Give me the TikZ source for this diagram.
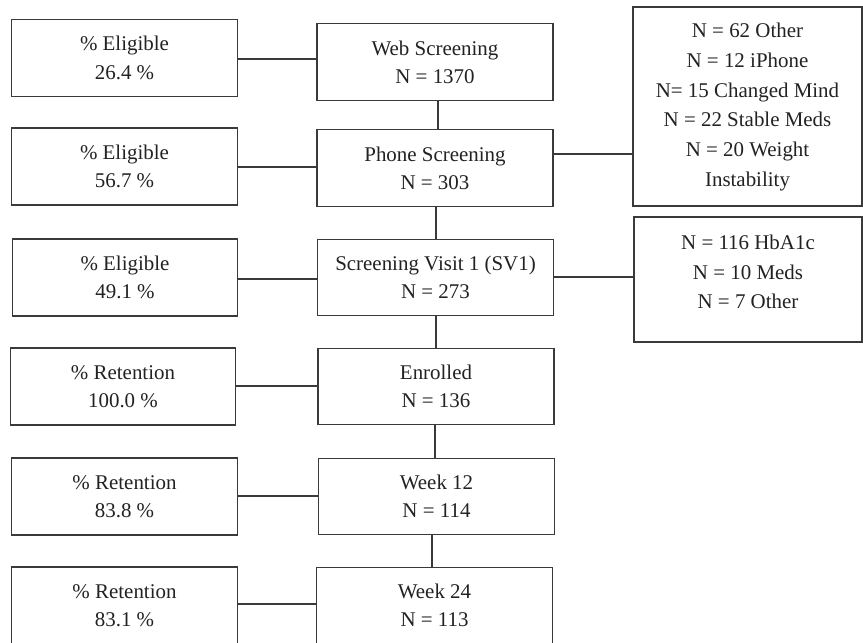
\documentclass[tikz,border=0pt]{standalone}
\usepackage{fontspec}
\setmainfont{Liberation Serif}
\usetikzlibrary{calc}
\definecolor{ln}{HTML}{3A3A3A}
\definecolor{tx}{HTML}{222222}
\begin{document}
\begin{tikzpicture}[x=0.75pt,y=-0.75pt,
  box/.style={draw=ln,line width=0.85pt,rectangle,inner sep=0pt,align=center,
    text=tx,font=\fontsize{15.7pt}{21.2pt}\selectfont},
  lbox/.style={box,minimum width=169pt,minimum height=57.75pt},
  cbox/.style={box,minimum width=177pt,minimum height=57.5pt},
  conn/.style={draw=ln,line width=0.85pt},
  rtxt/.style={align=center,text=tx,inner sep=0pt,font=\fontsize{15.7pt}{22.3pt}\selectfont}]
\clip (0,0) rectangle (863,642);
\fill[white] (0,0) rectangle (863,642);
% left boxes
\node[lbox] (L1) at (124.5,58) {\% Eligible\\26.4 \%};
\node[lbox] (L2) at (124.5,166.5) {\% Eligible\\56.7 \%};
\node[lbox] (L3) at (125,277.5) {\% Eligible\\49.1 \%};
\node[lbox] (L4) at (123,386.5) {\% Retention\\100.0 \%};
\node[lbox] (L5) at (124.5,496.5) {\% Retention\\83.8 \%};
\node[lbox] (L6) at (124.5,605.5) {\% Retention\\83.1 \%};
% centre boxes
\node[cbox] (C1) at (435,62) {Web Screening\\N = 1370};
\node[cbox] (C2) at (435,168) {Phone Screening\\N = 303};
\node[cbox] (C3) at (435.5,277.5) {Screening Visit 1 (SV1)\\N = 273};
\node[cbox] (C4) at (436,386.5) {Enrolled\\N = 136};
\node[cbox] (C5) at (436.5,496.5) {Week 12\\N = 114};
\node[cbox] (C6) at (434.5,605.5) {Week 24\\N = 113};
% right boxes
\node[box,minimum width=171.75pt,minimum height=149.25pt] (R1) at (747.5,106.5) {};
\node[rtxt] (R1t) at (747.5,107) {N = 62 Other\\N = 12 iPhone\\N= 15 Changed Mind\\N = 22 Stable Meds\\N = 20 Weight\\Instability};
\node[box,minimum width=171pt,minimum height=93.75pt] (R2) at (748,279.5) {};
\node[rtxt] (R2t) at (748,272) {N = 116 HbA1c\\N = 10 Meds\\N = 7 Other};
% connectors left-centre
\draw[conn] (L1.east |- 0,59) -- (C1.west |- 0,59);
\draw[conn] (L2.east |- 0,167) -- (C2.west |- 0,167);
\draw[conn] (L3.east |- 0,279) -- (C3.west |- 0,279);
\draw[conn] (L4.east |- 0,386) -- (C4.west |- 0,386);
\draw[conn] (L5.east |- 0,496) -- (C5.west |- 0,496);
\draw[conn] (L6.east |- 0,604) -- (C6.west |- 0,604);
% vertical connectors
\draw[conn] (C1.south -| 438,0) -- (C2.north -| 438,0);
\draw[conn] (C2.south -| 436,0) -- (C3.north -| 436,0);
\draw[conn] (C3.south -| 436,0) -- (C4.north -| 436,0);
\draw[conn] (C4.south -| 435,0) -- (C5.north -| 435,0);
\draw[conn] (C5.south -| 432,0) -- (C6.north -| 432,0);
% connectors centre-right
\draw[conn] (C2.east |- 0,154) -- (R1.west |- 0,154);
\draw[conn] (C3.east |- 0,277) -- (R2.west |- 0,277);
\end{tikzpicture}
\end{document}
